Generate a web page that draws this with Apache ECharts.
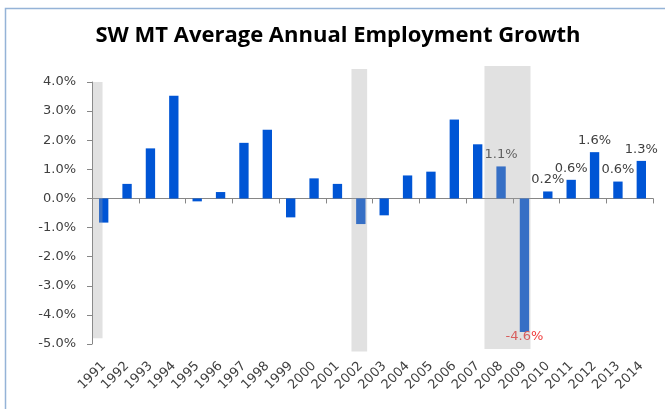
<!DOCTYPE html>
<html>
<head>
<meta charset="utf-8">
<script src="https://cdn.jsdelivr.net/npm/echarts@6/dist/echarts.min.js"></script>
<style>
  html, body { margin: 0; padding: 0; background: #fff; }
  #chart { width: 665px; height: 409px; }
</style>
</head>
<body>
<div id="chart"></div>
<script>
const years = ['1991', '1992', '1993', '1994', '1995', '1996', '1997', '1998',
  '1999', '2000', '2001', '2002', '2003', '2004', '2005', '2006', '2007', '2008',
  '2009', '2010', '2011', '2012', '2013', '2014'];
// average annual employment growth, %
const growth = [-0.83, 0.5, 1.72, 3.53, -0.1, 0.22, 1.91, 2.36, -0.65, 0.69, 0.5, -0.88,
  -0.58, 0.79, 0.92, 2.71, 1.86, 1.1, -4.59, 0.24, 0.64, 1.59, 0.58, 1.29];
const firstLabelledYear = '2008';

// recession shading: x in year-index units, y in %
const shadeStart = [-0.48, 10.6, 16.29];
const shadeEnd = [-0.05, 11.27, 18.26];
const shadeTop = [4.0, 4.45, 4.55];
const shadeBottom = [-4.8, -5.26, -5.17];

const yMin = -5, yMax = 4, yStep = 1;

const labelColor = '#404040';
const axisColor = '#868686';

const barData = growth.map(function (v, i) {
  const show = years[i] >= firstLabelledYear;
  const neg = v < 0;
  return {
    value: v,
    label: {
      show: show,
      position: neg ? 'bottom' : 'top',
      distance: neg ? -2 : 5,
      color: neg ? '#f03c3c' : labelColor
    }
  };
});

const shadeData = shadeStart.map(function (s, i) {
  return [s, shadeEnd[i], shadeTop[i], shadeBottom[i]];
});

let myChart = echarts.init(document.getElementById('chart'));
let option = {
  animation: false,
  title: {
    text: 'SW MT Average Annual Employment Growth',
    left: 338,
    top: 25,
    padding: 0,
    textAlign: 'center',
    textStyle: {
      fontFamily: 'Open Sans',
      fontWeight: 'bold',
      fontSize: 22,
      color: '#000'
    }
  },
  graphic: [
    {
      type: 'rect',
      shape: { x: 5.5, y: 8.5, width: 700, height: 500 },
      style: { fill: 'none', stroke: '#95b3d7', lineWidth: 1.5 },
      silent: true
    }
  ],
  grid: {
    left: 92,
    right: 12,
    top: 82,
    bottom: 65
  },
  xAxis: [
    {
      // year labels along the bottom of the plot
      type: 'category',
      data: years,
      position: 'bottom',
      axisLine: { show: false, onZero: false },
      axisTick: { show: false },
      axisLabel: {
        interval: 0,
        rotate: 45,
        margin: 20,
        fontFamily: 'DejaVu Sans',
        fontSize: 13,
        color: labelColor
      }
    },
    {
      // zero line with ticks between years
      type: 'category',
      data: years,
      position: 'bottom',
      axisLine: { onZero: true, lineStyle: { color: axisColor, width: 1 } },
      axisTick: { show: true, length: 5, lineStyle: { color: axisColor } },
      axisLabel: { show: false },
      splitLine: { show: false }
    },
    {
      type: 'value',
      min: -0.5,
      max: 23.5,
      show: false,
      position: 'top',
      axisLine: { onZero: false }
    }
  ],
  yAxis: {
    type: 'value',
    min: yMin,
    max: yMax,
    interval: yStep,
    axisLine: { show: true, onZero: false, lineStyle: { color: axisColor } },
    axisTick: { show: true, length: 5, lineStyle: { color: axisColor } },
    splitLine: { show: false },
    axisLabel: {
      margin: 16,
      fontFamily: 'DejaVu Sans',
      fontSize: 13,
      color: labelColor,
      formatter: function (v) { return v.toFixed(1) + '%'; }
    }
  },
  series: [
    {
      name: 'Growth',
      type: 'bar',
      xAxisIndex: 0,
      barWidth: '40%',
      itemStyle: { color: '#0055d5' },
      label: {
        fontFamily: 'DejaVu Sans',
        fontSize: 13,
        formatter: function (p) { return p.value.toFixed(1) + '%'; }
      },
      data: barData,
      z: 2
    },
    {
      name: 'Recession',
      type: 'custom',
      xAxisIndex: 2,
      yAxisIndex: 0,
      silent: true,
      z: 5,
      encode: { x: [0, 1], y: [2, 3] },
      renderItem: function (params, api) {
        const p1 = api.coord([api.value(0), api.value(2)]);
        const p2 = api.coord([api.value(1), api.value(3)]);
        return {
          type: 'rect',
          shape: { x: p1[0], y: p1[1], width: p2[0] - p1[0], height: p2[1] - p1[1] },
          style: { fill: 'rgba(165,165,165,0.33)' }
        };
      },
      data: shadeData
    }
  ]
};
myChart.setOption(option);
window.addEventListener('resize', function () {
  myChart.resize();
});
</script>
</body>
</html>
